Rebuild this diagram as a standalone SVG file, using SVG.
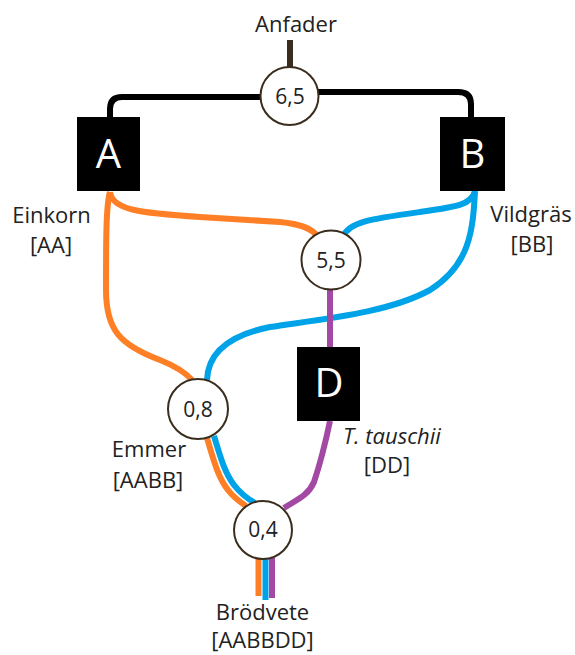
<svg xmlns="http://www.w3.org/2000/svg" width="575" height="655" viewBox="0 0 575 655">
  <style>
    .lbl { font-family: "Open Sans", "Liberation Sans", sans-serif; font-size: 22px; fill: #222; text-anchor: middle; }
    .box { fill: #000; }
    .boxtxt { font-family: "Open Sans", "Liberation Sans", sans-serif; font-size: 40px; fill: #fff; text-anchor: middle; }
    .node { fill: #fff; stroke: #3b2d1e; stroke-width: 2; }
    .val { font-family: "Open Sans", "Liberation Sans", sans-serif; font-size: 21px; fill: #222; text-anchor: middle; }
    .ln { fill: none; stroke-width: 6; stroke-linecap: butt; }
    .blk { stroke: #000; }
    .org { stroke: #FF7F27; }
    .blu { stroke: #00A2E8; }
    .pur { stroke: #A349A4; }
  </style>
  <rect width="575" height="655" fill="#fff"/>

  <!-- lineage connectors -->
  <g id="connectors">
    <path class="ln" d="M 290 40 L 290 68" stroke="#3b2d1e" stroke-width="4"/>
    <path class="ln blk" d="M 262 97 L 122 97 Q 110 97 110 109 L 110 118"/>
    <path class="ln blk" d="M 318 92 L 458 92 Q 471 92 471 104 L 471 118"/>
    <!-- A genome -->
    <path class="ln org" d="M 110 192 C 112 210, 140 213, 200 217 L 280 222 C 300 224, 312 228, 318 237"/>
    <path class="ln org" d="M 110 192 C 106 205, 106 240, 106 290 C 106 330, 120 345, 160 360 C 175 366, 185 372, 192 380"/>
    <path class="ln org" d="M 207 438 C 213 458, 218 478, 228 490 C 234 498, 240 502, 246 506"/>
    <path class="ln org" d="M 258.5 558 L 258.5 596"/>
    <!-- B genome -->
    <path class="ln blu" d="M 475 191 C 472 205, 455 207, 420 212 C 370 219, 348 222, 343 237"/>
    <path class="ln blu" d="M 475 191 C 473 230, 470 265, 430 290 C 390 312, 330 318, 270 327 C 230 335, 208 352, 207 380"/>
    <path class="ln blu" d="M 214 436 C 220 455, 224 472, 234 485 C 241 494, 248 499, 255 503"/>
    <path class="ln blu" d="M 265.5 558 L 265.5 600"/>
    <!-- D genome -->
    <path class="ln pur" d="M 330 290 L 330 348"/>
    <path class="ln pur" d="M 330 421 C 325 445, 318 470, 314 482 C 308 496, 296 500, 284 508"/>
    <path class="ln pur" d="M 272 558 L 272 598"/>
  </g>

  <g id="anfader">
    <text class="lbl" x="296" y="32">Anfader</text>
  </g>

  <g id="n65">
    <circle class="node" cx="289.5" cy="96" r="29"/>
    <text class="val" x="290" y="104">6,5</text>
  </g>

  <g id="nodeA">
    <rect class="box" x="77" y="117" width="63" height="74"/>
    <text class="boxtxt" x="108.5" y="168">A</text>
    <text class="lbl" x="51.5" y="223">Einkorn</text>
    <text class="lbl" x="51" y="253">[AA]</text>
  </g>

  <g id="nodeB">
    <rect class="box" x="440" y="117" width="65" height="74"/>
    <text class="boxtxt" x="472.5" y="168">B</text>
    <text class="lbl" x="531" y="222">Vildgräs</text>
    <text class="lbl" x="532" y="252">[BB]</text>
  </g>

  <g id="n55">
    <circle class="node" cx="331" cy="260" r="29.5"/>
    <text class="val" x="331" y="268">5,5</text>
  </g>

  <g id="nodeD">
    <rect class="box" x="297" y="347" width="63" height="74"/>
    <text class="boxtxt" x="329" y="397">D</text>
    <text class="lbl" x="392" y="444" font-style="italic">T. tauschii</text>
    <text class="lbl" x="387" y="473">[DD]</text>
  </g>

  <g id="n08">
    <circle class="node" cx="198" cy="409" r="30"/>
    <text class="val" x="198" y="417">0,8</text>
    <text class="lbl" x="149" y="457">Emmer</text>
    <text class="lbl" x="148" y="488">[AABB]</text>
  </g>

  <g id="n04">
    <circle class="node" cx="263" cy="530" r="29"/>
    <text class="val" x="263" y="537">0,4</text>
    <text class="lbl" x="262.5" y="620">Brödvete</text>
    <text class="lbl" x="262.5" y="648">[AABBDD]</text>
  </g>
</svg>
